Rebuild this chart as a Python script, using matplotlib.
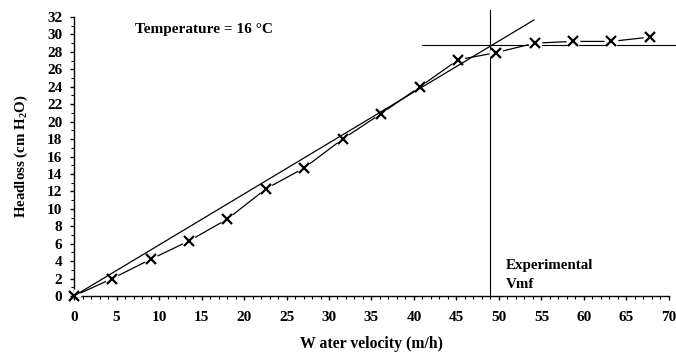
import numpy as np
import matplotlib
matplotlib.use("Agg")
import matplotlib.pyplot as plt
from matplotlib.ticker import MultipleLocator

# measured headloss across the bed vs. superficial water velocity
velocity = [0, 4.5, 9.0, 13.5, 18.0, 22.6, 27.1, 31.6, 36.1, 40.7, 45.2, 49.6, 54.2, 58.7, 63.2, 67.8]
headloss = [0, 2.0, 4.2, 6.3, 8.8, 12.3, 14.7, 18.0, 20.9, 24.0, 27.1, 27.9, 29.0, 29.2, 29.2, 29.7]

# fixed-bed slope and fluidised plateau, intersecting at the experimental Vmf
fit_x = [0, 54.1]
fit_y = [0, 31.65]
vmf = 49.0
plateau = 28.8
plateau_x = [41.0, 70.8]
vmf_top = 32.8

plt.rcParams["font.family"] = ["Liberation Serif", "DejaVu Serif"]
plt.rcParams["font.weight"] = "bold"
plt.rcParams["mathtext.fontset"] = "custom"
plt.rcParams["mathtext.rm"] = "Liberation Serif"
plt.rcParams["mathtext.bf"] = "Liberation Serif:bold"

fig = plt.figure(figsize=(6.76, 3.55), dpi=100)
ax = fig.add_axes([0.1095, 0.1662, 0.8801, 0.7859])

ax.plot(velocity, headloss, color="black", lw=0.9, zorder=2)
ax.plot(velocity, headloss, ls="none", marker="o", ms=10, mfc="white", mec="none", zorder=3)
ax.plot(fit_x, fit_y, color="black", lw=0.9, zorder=4, clip_on=False)
ax.plot(velocity, headloss, ls="none", marker="x", ms=7, mew=1.6, color="black", zorder=5, clip_on=False)

ax.plot([vmf, vmf], [0, vmf_top], color="black", lw=0.8, clip_on=False)
ax.plot(plateau_x, [plateau, plateau], color="black", lw=0.8, clip_on=False)

ax.set_xlim(0, 70)
ax.set_ylim(0, 32)
ax.xaxis.set_major_locator(MultipleLocator(5))
ax.xaxis.set_minor_locator(MultipleLocator(1))
ax.yaxis.set_major_locator(MultipleLocator(2))
ax.yaxis.set_minor_locator(MultipleLocator(1))
ax.tick_params(axis="both", which="major", labelsize=11, length=2.8, width=1, direction="out")
ax.tick_params(axis="both", which="minor", length=2.2, width=0.8, direction="out")
ax.tick_params(axis="x", pad=8)
ax.tick_params(axis="y", pad=5.5)
for lab in ax.get_xticklabels() + ax.get_yticklabels():
    lab.set_fontweight("bold")

for s in ("top", "right"):
    ax.spines[s].set_visible(False)
ax.spines["left"].set_linewidth(1)
ax.spines["bottom"].set_linewidth(1)

ax.set_xlabel("W ater velocity (m/h)", fontsize=11.3, fontweight="bold", labelpad=9)
ax.set_ylabel("Headloss (cm H$_\\mathbf{2}$O)", fontsize=10.7, fontweight="bold", labelpad=12)

ax.text(7.2, 30.2, "Temperature = 16 °C", fontsize=11, fontweight="bold")
ax.text(50.8, 3.1, "Experimental", fontsize=10.8, fontweight="bold")
ax.text(50.8, 0.9, "Vmf", fontsize=10.8, fontweight="bold")

fig.savefig("out.png", dpi=100)
